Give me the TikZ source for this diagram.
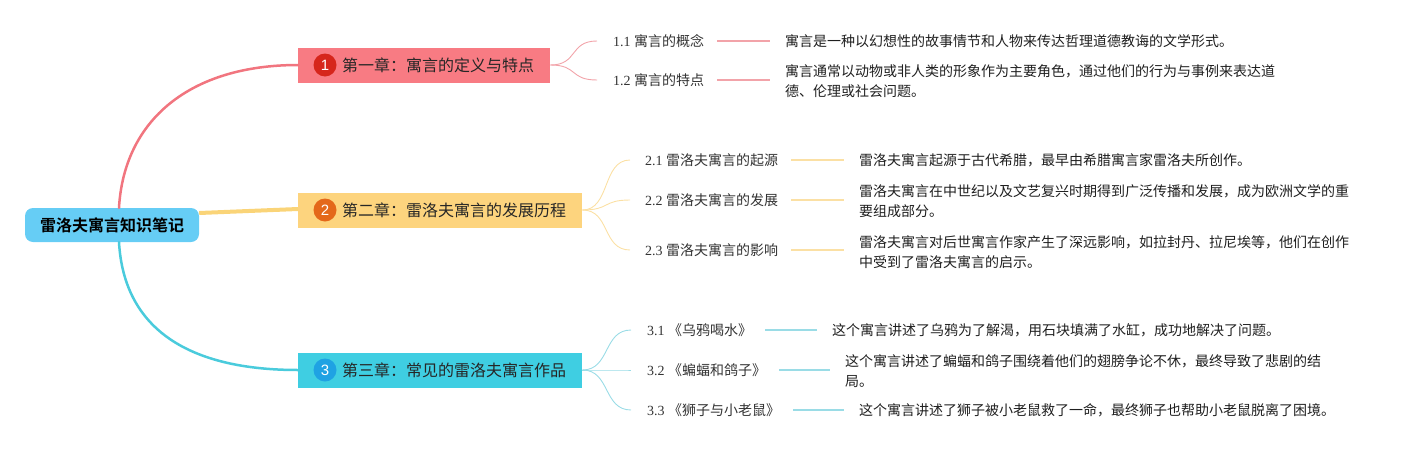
\documentclass[tikz,border=0pt]{standalone}
\usepackage{fontspec}
\setmainfont{Liberation Serif}
\setsansfont{Liberation Sans}
\newfontfamily\cjk{Noto Sans CJK SC}[BoldFont={Noto Sans CJK SC Bold}]
\usepackage{tikz}
\usetikzlibrary{calc}
\usepackage{xcolor}
\definecolor{rootfill}{HTML}{66CDF5}
\definecolor{chfillA}{HTML}{F87B83}
\definecolor{dotA}{HTML}{D6261C}
\definecolor{brA}{HTML}{F1757F}
\definecolor{subA}{HTML}{F2A3A9}
\definecolor{chfillB}{HTML}{FDD47E}
\definecolor{dotB}{HTML}{E4681A}
\definecolor{brB}{HTML}{FAD478}
\definecolor{subB}{HTML}{FBE0A4}
\definecolor{chfillC}{HTML}{3FCEE2}
\definecolor{dotC}{HTML}{1FA2E3}
\definecolor{brC}{HTML}{4ACBDC}
\definecolor{subC}{HTML}{9ADCE6}

\begin{document}
\begin{tikzpicture}[x=1pt,y=-1pt,
		rootbox/.style={fill=rootfill, rounded corners=8pt, minimum width=174pt, minimum height=34pt, font=\cjk\bfseries\fontsize{16}{18}\selectfont},
		chbox/.style={anchor=west, minimum height=35pt, inner xsep=16pt, inner ysep=0pt, font=\cjk\fontsize{16}{18}\selectfont, text=black!85},
		numdot/.style={circle, inner sep=0pt, minimum size=23pt, text=white, font=\sffamily\fontsize{15}{15}\selectfont},
		seclbl/.style={anchor=west, inner sep=0pt, text=black!80, font=\fontsize{14}{16}\selectfont},
		desc/.style={anchor=west, inner sep=0pt, align=left, text=black!88, font=\cjk\fontsize{14}{20}\selectfont},
		trunk/.style={line width=2.5pt, line cap=round},
		twig/.style={line width=0.9pt},
		stub/.style={line width=1.5pt, shorten <=13pt, shorten >=15pt}]
		
		\useasboundingbox (0,0) rectangle (1418,450);
		
		% Root
		\node[rootbox] (root) at (112,225) {雷洛夫寓言知识笔记};
		
		% Chapters
		\node[chbox, fill=chfillA] (ch1) at (298,65) {\hspace{28pt}第一章：寓言的定义与特点};
		\node[chbox, fill=chfillB] (ch2) at (298,210) {\hspace{28pt}第二章：雷洛夫寓言的发展历程};
		\node[chbox, fill=chfillC] (ch3) at (298,370) {\hspace{28pt}第三章：常见的雷洛夫寓言作品};
		\node[numdot, fill=dotA] (n1) at ([xshift=27pt]ch1.west) {1};
		\node[numdot, fill=dotB] (n2) at ([xshift=27pt]ch2.west) {2};
		\node[numdot, fill=dotC] (n3) at ([xshift=27pt]ch3.west) {3};
		
		% Trunks from the root
		\draw[trunk, brA] ([xshift=7pt]root.north) .. controls (124,120) and (190,65) .. (ch1.west);
		\draw[trunk, brC] ([xshift=7pt]root.south) .. controls (124,330) and (190,370) .. (ch3.west);
		\draw[line width=4pt, brB] ([yshift=12pt]root.east) -- ([yshift=1pt]ch2.west);
		
		% Chapter 1
		\node[seclbl] (l11) at (613,41) {1.1 {\cjk 寓言的概念}};
		\node[seclbl] (l12) at (613,80) {1.2 {\cjk 寓言的特点}};
		\node[desc] (d11) at (785,41) {寓言是一种以幻想性的故事情节和人物来传达哲理道德教诲的文学形式。};
		\node[desc] (d12) at (785,81) {寓言通常以动物或非人类的形象作为主要角色，通过他们的行为与事例来表达道\\德、伦理或社会问题。};
		\foreach \s in {11,12}{
			\draw[twig, subA] (ch1.east) .. controls +(28,0) and +(-28,0) .. ([xshift=-16pt]l\s.west);
			\draw[stub, subA] (l\s.east) -- (l\s.east -| d\s.west);
		}
		
		% Chapter 2
		\node[seclbl] (l21) at (645,160) {2.1 {\cjk 雷洛夫寓言的起源}};
		\node[seclbl] (l22) at (645,200) {2.2 {\cjk 雷洛夫寓言的发展}};
		\node[seclbl] (l23) at (645,250) {2.3 {\cjk 雷洛夫寓言的影响}};
		\node[desc] (d21) at (859,160) {雷洛夫寓言起源于古代希腊，最早由希腊寓言家雷洛夫所创作。};
		\node[desc] (d22) at (859,201) {雷洛夫寓言在中世纪以及文艺复兴时期得到广泛传播和发展，成为欧洲文学的重\\要组成部分。};
		\node[desc] (d23) at (859,252) {雷洛夫寓言对后世寓言作家产生了深远影响，如拉封丹、拉尼埃等，他们在创作\\中受到了雷洛夫寓言的启示。};
		\foreach \s in {21,22,23}{
			\draw[twig, subB] (ch2.east) .. controls +(28,0) and +(-28,0) .. ([xshift=-15pt]l\s.west);
			\draw[stub, subB] (l\s.east) -- (l\s.east -| d\s.west);
		}
		
		% Chapter 3
		\node[seclbl] (l31) at (647,330) {3.1 {\cjk 《乌鸦喝水》}};
		\node[seclbl] (l32) at (647,370) {3.2 {\cjk 《蝙蝠和鸽子》}};
		\node[seclbl] (l33) at (647,410) {3.3 {\cjk 《狮子与小老鼠》}};
		\node[desc] (d31) at (832,330) {这个寓言讲述了乌鸦为了解渴，用石块填满了水缸，成功地解决了问题。};
		\node[desc] (d32) at (845,371) {这个寓言讲述了蝙蝠和鸽子围绕着他们的翅膀争论不休，最终导致了悲剧的结\\局。};
		\node[desc] (d33) at (859,410) {这个寓言讲述了狮子被小老鼠救了一命，最终狮子也帮助小老鼠脱离了困境。};
		\foreach \s in {31,32,33}{
			\draw[twig, subC] (ch3.east) .. controls +(28,0) and +(-28,0) .. ([xshift=-16pt]l\s.west);
			\draw[stub, subC] (l\s.east) -- (l\s.east -| d\s.west);
		}
		
	\end{tikzpicture}
\end{document}
